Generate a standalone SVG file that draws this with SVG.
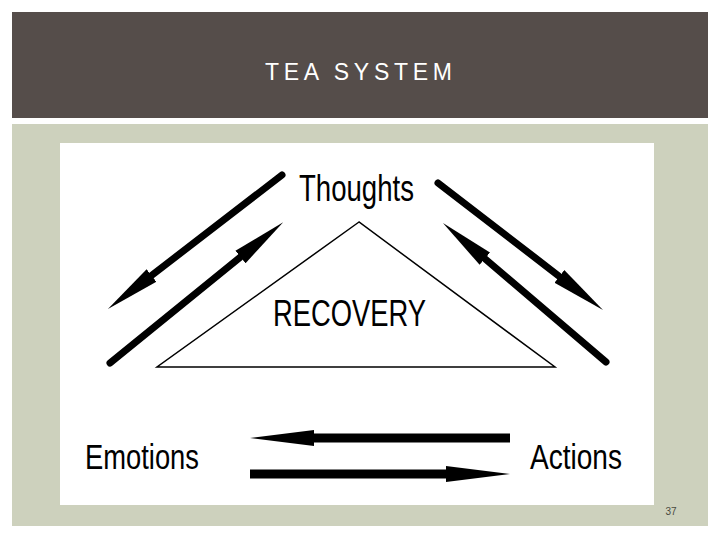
<svg xmlns="http://www.w3.org/2000/svg" width="720" height="540" viewBox="0 0 720 540">
<defs>
<style>
.lbl{font-family:"Liberation Sans",Arial,sans-serif;fill:#000;}
.arr{stroke:#000;stroke-width:7;stroke-linecap:round;fill:none;}
.harr{stroke:#000;stroke-width:9;fill:none;}
</style>
<marker id="hd" markerUnits="userSpaceOnUse" markerWidth="60" markerHeight="20" viewBox="0 -10 60 20" refX="0" refY="0" orient="auto">
<path d="M0,-8 L55,0 L0,8 Z" fill="#000"/>
</marker>
<marker id="hh" markerUnits="userSpaceOnUse" markerWidth="70" markerHeight="20" viewBox="0 -10 70 20" refX="0" refY="0" orient="auto">
<path d="M0,-8 L64,0 L0,8 Z" fill="#000"/>
</marker>
</defs>
<rect x="0" y="0" width="720" height="540" fill="#fff"/>
<rect id="header" x="12" y="12" width="696" height="106" fill="#554d4a"/>
<text x="265" y="80" font-family="'Liberation Sans',Arial,sans-serif" font-size="23" fill="#fff" textLength="187" lengthAdjust="spacing">TEA SYSTEM</text>
<rect id="body" x="12" y="124" width="696" height="402" fill="#cdd1bd"/>
<rect id="panel" x="60" y="143" width="594" height="362" fill="#fff"/>
<g id="recovery">
<polygon points="359,222 157,367 555,367" fill="none" stroke="#000" stroke-width="1.5"/>
<text class="lbl" x="273" y="326" font-size="36" textLength="153" lengthAdjust="spacingAndGlyphs">RECOVERY</text>
</g>
<g id="thoughts"><text class="lbl" x="299" y="201" font-size="36" textLength="115" lengthAdjust="spacingAndGlyphs">Thoughts</text></g>
<g id="emotions"><text class="lbl" x="85" y="469" font-size="35" textLength="114" lengthAdjust="spacingAndGlyphs">Emotions</text></g>
<g id="actions"><text class="lbl" x="530" y="469" font-size="35" textLength="92" lengthAdjust="spacingAndGlyphs">Actions</text></g>
<g id="connectors">
<line class="arr" x1="282" y1="175" x2="151.5" y2="275.5" marker-end="url(#hd)"/>
<line class="arr" x1="110" y1="363" x2="240.5" y2="257" marker-end="url(#hd)"/>
<line class="arr" x1="438" y1="183" x2="559.4" y2="276.4" marker-end="url(#hd)"/>
<line class="arr" x1="606" y1="362" x2="484.8" y2="258.7" marker-end="url(#hd)"/>
<line class="harr" x1="510" y1="438" x2="314" y2="438" marker-end="url(#hh)"/>
<line class="harr" x1="250" y1="474" x2="446" y2="474" marker-end="url(#hh)"/>
</g>
<text x="671" y="515" text-anchor="middle" font-family="'Liberation Sans',Arial,sans-serif" font-size="10" fill="#4a4a40">37</text>
</svg>
